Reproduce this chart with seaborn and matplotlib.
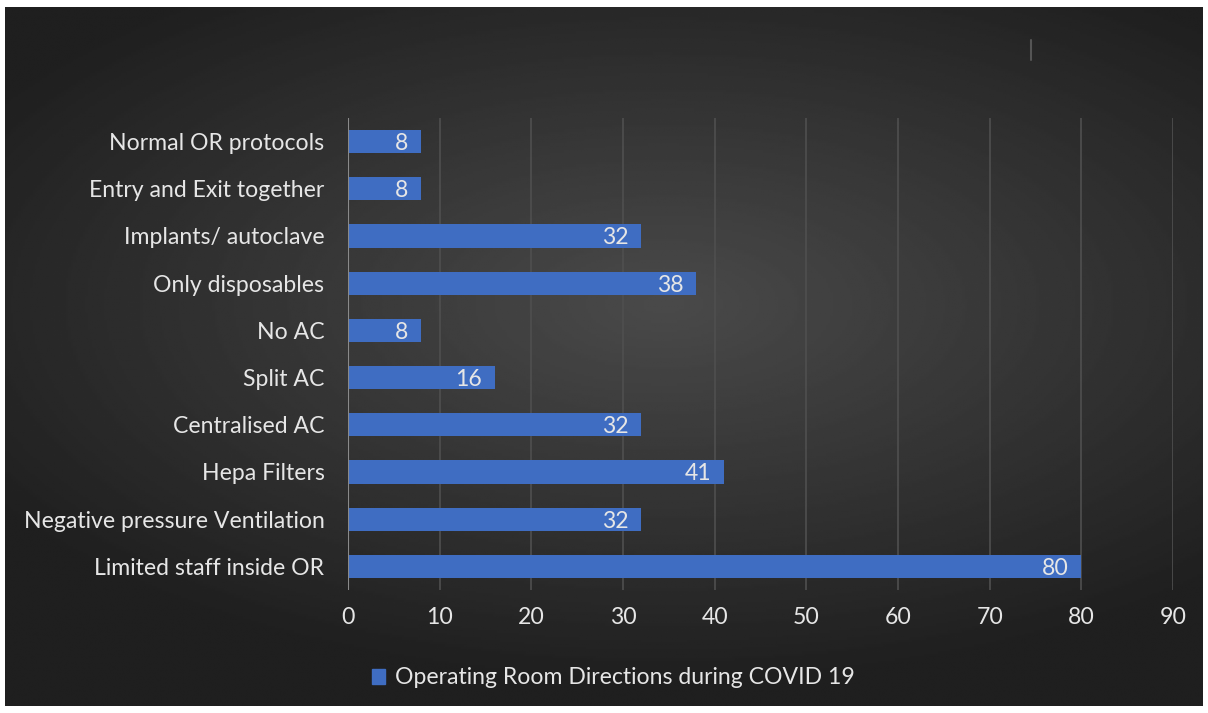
import numpy as np
import pandas as pd
import matplotlib.pyplot as plt
import matplotlib.patches as mpatches
from matplotlib.lines import Line2D
import seaborn as sns

# chart data (top to bottom)
directions = ['Normal OR protocols', 'Entry and Exit together', 'Implants/ autoclave',
              'Only disposables', 'No AC', 'Split AC', 'Centralised AC', 'Hepa Filters',
              'Negative pressure Ventilation', 'Limited staff inside OR']
counts = [8, 8, 32, 38, 8, 16, 32, 41, 32, 80]
x_ticks = [0, 10, 20, 30, 40, 50, 60, 70, 80, 90]
series_name = 'Operating Room Directions during COVID 19'

df = pd.DataFrame({'Direction': directions, 'Count': counts})

sns.set_style('dark')
plt.rcParams['font.family'] = ['Lato', 'DejaVu Sans']
txt = '#e6e6e6'
bar_color = '#3f6dc2'
fs = 16.6

fig = plt.figure(figsize=(12.08, 7.13), dpi=100)
fig.patch.set_facecolor('white')

# dark panel with a soft radial gradient
bg = fig.add_axes([5 / 1208, 7 / 713, 1198 / 1208, 699 / 713])
yy, xx = np.mgrid[-1:1:300j, -1:1:500j]
r = np.sqrt(((xx - 0.1) * 0.9) ** 2 + ((yy + 0.15) * 1.1) ** 2)
shade = 0.29 - 0.14 * np.clip(r, 0, 1.2)
bg.imshow(shade, cmap='gray', vmin=0, vmax=1, aspect='auto', extent=[0, 1, 0, 1])
bg.set_axis_off()

ax = fig.add_axes([348 / 1208, (713 - 590) / 713, 825 / 1208, 472 / 713])
ax.patch.set_alpha(0)
sns.barplot(data=df, x='Count', y='Direction', orient='h', color=bar_color,
            width=0.49, saturation=1, linewidth=0, ax=ax)

ax.set_xlim(0, 90)
ax.set_xticks(x_ticks)
ax.grid(axis='x', color='#4f4f4f', linewidth=1.2)
ax.grid(axis='y', visible=False)
ax.set_axisbelow(True)
for s in ax.spines.values():
    s.set_visible(False)
ax.axvline(0, color='#8a8a8a', linewidth=1.5, zorder=1)
ax.tick_params(axis='both', length=0, labelsize=fs, colors=txt)
ax.tick_params(axis='x', pad=12)
ax.tick_params(axis='y', pad=17)
ax.set_xlabel('')
ax.set_ylabel('')

for i, v in enumerate(counts):
    ax.text(v - 1.4, i + 0.04, str(v), ha='right', va='center', color=txt, fontsize=fs)

handle = mpatches.Patch(color=bar_color, label=series_name)
fig.legend(handles=[handle], loc='center', bbox_to_anchor=(613 / 1208, 1 - 678 / 713),
           frameon=False, fontsize=fs, labelcolor=txt, handlelength=0.6,
           handleheight=0.6, handletextpad=0.4)

# small stray mark at the top right of the original
fig.add_artist(Line2D([1031 / 1208, 1031 / 1208], [1 - 40 / 713, 1 - 60 / 713],
                      color='#555555', linewidth=1.5))

fig.savefig('out.png', dpi=100, facecolor='white')
